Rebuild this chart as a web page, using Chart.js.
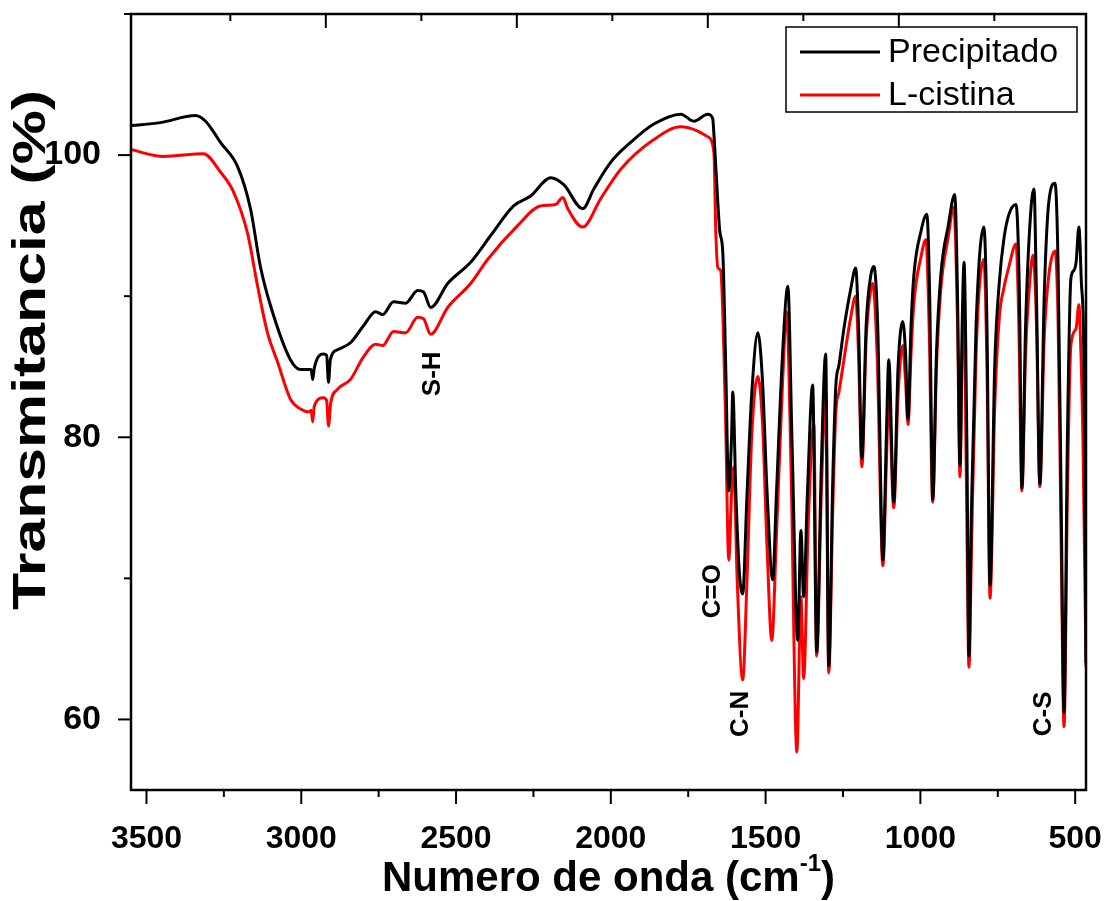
<!DOCTYPE html>
<html>
<head>
<meta charset="utf-8">
<script src="https://cdn.jsdelivr.net/npm/chart.js@4.4.1/dist/chart.umd.min.js"></script>
<style>
  html, body { margin: 0; padding: 0; background: #fff; }
</style>
</head>
<body>
<canvas id="ftirChart" width="1105" height="901"></canvas>
<script>
"use strict"

// spectra (wavenumber in cm-1, transmittance in %)
const wnPrecip = [3548, 3455, 3342, 3309, 3285, 3261, 3206, 3164, 3132, 3099, 3035, 3002, 2975, 2968, 2963, 2958, 2928, 2918, 2912, 2906,
  2883, 2841, 2799, 2760, 2737, 2702, 2663, 2624, 2605, 2582, 2527, 2453, 2388, 2314, 2259, 2194, 2152, 2091, 2055, 2000,
  1936, 1861, 1774, 1732, 1687, 1671, 1667, 1654, 1648, 1638, 1629, 1619, 1610, 1606, 1596, 1585, 1574, 1560, 1545, 1525,
  1510, 1495, 1477, 1465, 1445, 1428, 1415, 1396, 1386, 1377, 1365, 1348, 1335, 1320, 1306, 1296, 1283, 1273, 1263, 1247,
  1225, 1209, 1200, 1189, 1175, 1160, 1150, 1138, 1121, 1110, 1102, 1086, 1072, 1057, 1048, 1040, 1030, 1021, 998, 979,
  970, 960, 948, 934, 910, 889, 880, 872, 865, 859, 850, 843, 835, 820, 795, 785, 775, 760, 745, 730,
  714, 691, 680, 672, 660, 645, 633, 625, 614, 600, 585, 565, 555, 545, 536, 525, 514, 505, 497, 488,
  480, 472, 465]
const tPrecip = [102.1, 102.3, 102.8, 102.4, 101.7, 100.9, 99.2, 96.2, 92.1, 89.3, 85.5, 84.8, 84.8, 84.8, 84.1, 84.9, 85.9, 85.8, 83.9, 85.5,
  86.2, 86.7, 87.9, 88.9, 88.7, 89.6, 89.5, 90.4, 90.3, 89.2, 90.9, 92.4, 94.3, 96.4, 97.1, 98.4, 97.9, 96.2, 97.6, 99.5,
  100.9, 102.2, 102.9, 102.4, 102.9, 102.6, 101.5, 96.5, 94.6, 93.0, 85.2, 76.2, 80.0, 83.2, 76.0, 70.5, 68.9, 76.0, 83.0, 87.4,
  84.0, 76.0, 69.9, 76.0, 86.0, 90.7, 80.0, 65.6, 73.4, 68.7, 76.0, 83.7, 64.8, 78.0, 85.9, 63.8, 77.0, 83.7, 85.1, 87.7,
  90.5, 92.0, 88.0, 78.5, 88.0, 91.5, 92.1, 88.0, 71.3, 80.0, 85.5, 75.4, 85.0, 88.2, 86.0, 81.3, 88.0, 91.5, 94.6, 95.8,
  90.0, 75.6, 86.0, 91.5, 95.0, 97.2, 90.0, 78.0, 88.0, 92.4, 80.0, 64.5, 75.0, 88.0, 94.9, 88.0, 69.5, 85.0, 91.0, 94.1,
  95.8, 96.5, 90.0, 76.4, 88.0, 95.5, 97.6, 90.0, 76.7, 90.0, 96.7, 98.0, 92.0, 75.0, 60.5, 80.0, 91.2, 91.8, 92.4, 94.9,
  91.0, 86.0, 64.0]

const wnCistina = [3552, 3445, 3316, 3261, 3219, 3174, 3141, 3109, 3076, 3035, 3002, 2976, 2968, 2963, 2958, 2928, 2918, 2912, 2905, 2883,
  2841, 2799, 2760, 2737, 2702, 2663, 2624, 2605, 2582, 2527, 2453, 2398, 2301, 2227, 2178, 2155, 2139, 2091, 2033, 1968,
  1861, 1774, 1719, 1687, 1667, 1661, 1654, 1645, 1630, 1619, 1610, 1603, 1592, 1574, 1560, 1545, 1525, 1510, 1495, 1480,
  1465, 1445, 1432, 1418, 1399, 1386, 1377, 1362, 1344, 1335, 1320, 1306, 1296, 1283, 1273, 1263, 1247, 1225, 1209, 1200,
  1189, 1175, 1160, 1154, 1140, 1121, 1110, 1102, 1086, 1072, 1057, 1048, 1040, 1030, 1021, 998, 982, 972, 960, 948,
  934, 910, 892, 880, 872, 865, 859, 852, 843, 835, 820, 795, 785, 775, 760, 745, 730, 714, 691, 682,
  672, 660, 645, 636, 625, 614, 600, 585, 565, 555, 545, 536, 525, 514, 497, 488, 483, 475, 465]
const tCistina = [100.4, 99.9, 100.1, 98.8, 97.4, 94.5, 90.7, 87.4, 85.3, 82.7, 82.0, 81.8, 81.9, 81.1, 82.2, 82.8, 82.6, 80.8, 82.4, 83.4,
  84.1, 85.7, 86.6, 86.5, 87.5, 87.4, 88.5, 88.4, 87.3, 89.2, 90.9, 92.6, 95.0, 96.4, 96.5, 97.0, 96.2, 94.9, 96.9, 99.0,
  101.1, 102.0, 101.7, 101.3, 100.2, 94.6, 92.0, 91.8, 82.0, 71.3, 76.0, 77.9, 70.0, 62.8, 70.0, 80.0, 84.3, 81.0, 72.0, 65.6,
  73.0, 84.0, 88.9, 78.0, 57.7, 68.7, 62.9, 74.0, 80.9, 64.5, 76.0, 83.2, 63.3, 75.0, 81.8, 83.2, 85.5, 88.5, 90.0, 86.0,
  77.9, 87.0, 90.5, 90.9, 86.0, 70.9, 78.0, 82.9, 75.0, 83.0, 86.5, 84.0, 80.9, 86.0, 89.5, 92.8, 94.0, 88.0, 75.4, 85.0,
  90.5, 94.2, 96.3, 88.0, 77.2, 86.0, 89.4, 78.0, 63.7, 72.0, 86.0, 92.6, 85.0, 68.6, 82.0, 88.5, 90.6, 92.1, 93.7, 88.0,
  76.2, 86.0, 91.5, 92.9, 88.0, 76.5, 87.0, 91.5, 93.2, 88.0, 72.0, 59.5, 76.0, 86.5, 87.7, 89.4, 87.1, 80.0, 63.7]

const xTicks = [3500, 3000, 2500, 2000, 1500, 1000, 500]
const yTicks = [60, 80, 100]

// band assignments written on the plot
const bandLabels = ['S-H', 'C=O', 'C-N', 'C-S']
const bandWn = [2576, 1671, 1580, 601]
const bandT = [84.5, 69.1, 60.4, 60.4]

const toPoints = (xs, ys) => xs.map((x, i) => ({ x: x, y: ys[i] }))

function tick(ctx, x1, y1, x2, y2) {
    ctx.beginPath()
    ctx.moveTo(x1, y1)
    ctx.lineTo(x2, y2)
    ctx.stroke()
}

// box round the plot plus the tick marks (minor ones too)
const frameTicks = {
    id: 'frameTicks',
    afterDatasetsDraw(chart) {
        const { ctx, chartArea: a, scales } = chart
        ctx.save()
        ctx.strokeStyle = '#000'
        ctx.lineWidth = 2.5
        ctx.strokeRect(a.left, a.top, a.right - a.left, a.bottom - a.top)
        ctx.lineWidth = 2
        for (let v = 500; v <= 3500; v += 250) {
            const px = scales.x.getPixelForValue(v)
            tick(ctx, px, a.bottom, px, a.bottom + (v % 500 === 0 ? 14 : 7))
        }
        for (let v = 60; v <= 110; v += 10) {
            const py = scales.y.getPixelForValue(v)
            tick(ctx, a.left, py, a.left - (v % 20 === 0 ? 13 : 7), py)
        }
        for (let v = 1; v <= 9; v++) {
            const px = scales.xTop.getPixelForValue(v)
            tick(ctx, px, a.top, px, a.top + (v % 2 === 0 ? 14 : 7))
        }
        ctx.restore()
    }
}

const textBits = {
    id: 'textBits',
    afterDraw(chart) {
        const { ctx, chartArea: a, scales } = chart
        ctx.save()
        ctx.fillStyle = '#000'

        // band labels, rotated
        ctx.font = 'bold 26px "Liberation Sans", Arial, sans-serif'
        ctx.textAlign = 'center'
        ctx.textBaseline = 'middle'
        bandLabels.forEach((lab, i) => {
            ctx.save()
            ctx.translate(scales.x.getPixelForValue(bandWn[i]), scales.y.getPixelForValue(bandT[i]))
            ctx.rotate(-Math.PI / 2)
            ctx.fillText(lab, 0, 0)
            ctx.restore()
        })

        // y title, stretched along its length like the original
        ctx.save()
        ctx.font = 'bold 47px "Liberation Sans", Arial, sans-serif'
        const yt = 'Transmitancia (%)'
        const stretch = 520 / ctx.measureText(yt).width
        ctx.translate(32, 350)
        ctx.rotate(-Math.PI / 2)
        ctx.scale(stretch, 1)
        ctx.fillText(yt, 0, 0)
        ctx.restore()

        // legend
        const lx = a.right - 300, ly = a.top + 13
        ctx.strokeStyle = '#000'
        ctx.lineWidth = 1.5
        ctx.strokeRect(lx, ly, 291, 85)
        ctx.font = '34px "Liberation Sans", Arial, sans-serif'
        ctx.textAlign = 'left'
        chart.data.datasets.forEach((ds, i) => {
            const y = ly + 25 + i * 43
            ctx.strokeStyle = ds.borderColor
            ctx.lineWidth = 3
            tick(ctx, lx + 14, y, lx + 94, y)
            ctx.fillText(ds.label, lx + 102, y + 1)
        })

        // x title with superscript
        const main = 'Numero de onda (cm', sup = '-1', close = ')'
        const big = 'bold 42px "Liberation Sans", Arial, sans-serif'
        const small = 'bold 24px "Liberation Sans", Arial, sans-serif'
        ctx.font = big
        const w1 = ctx.measureText(main).width, w3 = ctx.measureText(close).width
        ctx.font = small
        const w2 = ctx.measureText(sup).width
        let x = (a.left + a.right) / 2 - (w1 + w2 + w3) / 2
        const base = 891
        ctx.textBaseline = 'alphabetic'
        ctx.font = big
        ctx.fillText(main, x, base)
        x += w1
        ctx.font = small
        ctx.fillText(sup, x, base - 20)
        x += w2
        ctx.font = big
        ctx.fillText(close, x, base)
        ctx.restore()
    }
}

const ctx = document.getElementById('ftirChart')
const myChart = new Chart(ctx, {
    type: 'line',
    data: {
        datasets: [{
            label: 'Precipitado',
            data: toPoints(wnPrecip, tPrecip),
            borderColor: '#000000',
            borderWidth: 3,
        },
        {
            label: 'L-cistina',
            data: toPoints(wnCistina, tCistina),
            borderColor: '#ff0000',
            borderWidth: 3,
        }]
    },
    options: {
        responsive: false,
        animation: false,
        elements: {
            point: { radius: 0 },
            line: { cubicInterpolationMode: 'monotone' }
        },
        layout: { padding: { top: 14, right: 19, left: 0, bottom: 0 } },
        plugins: {
            legend: { display: false },
            tooltip: { enabled: false }
        },
        scales: {
            x: {
                type: 'linear',
                reverse: true,
                min: 465,
                max: 3550,
                grid: { display: false },
                border: { display: false },
                afterBuildTicks: (scale) => { scale.ticks = xTicks.map(v => ({ value: v })) },
                afterFit: (scale) => {
                    scale.height = 111
                    scale.paddingLeft = 0
                    scale.paddingRight = 0
                },
                ticks: {
                    color: '#000',
                    padding: 22,
                    maxRotation: 0,
                    autoSkip: false,
                    callback: (v) => String(v),
                    font: { family: '"Liberation Sans", Arial, sans-serif', size: 32, weight: 'bold' }
                }
            },
            xTop: {
                type: 'linear',
                axis: 'x',
                position: 'top',
                display: false,
                min: -0.04,
                max: 9.96
            },
            y: {
                type: 'linear',
                min: 55,
                max: 110,
                grid: { display: false },
                border: { display: false },
                afterBuildTicks: (scale) => { scale.ticks = yTicks.map(v => ({ value: v })) },
                afterFit: (scale) => {
                    scale.width = 131
                    scale.paddingTop = 0
                    scale.paddingBottom = 0
                },
                ticks: {
                    color: '#000',
                    padding: 22,
                    callback: (v) => String(v),
                    font: { family: '"Liberation Sans", Arial, sans-serif', size: 34, weight: 'bold' }
                }
            }
        }
    },
    plugins: [frameTicks, textBits]
})
</script>
</body>
</html>
